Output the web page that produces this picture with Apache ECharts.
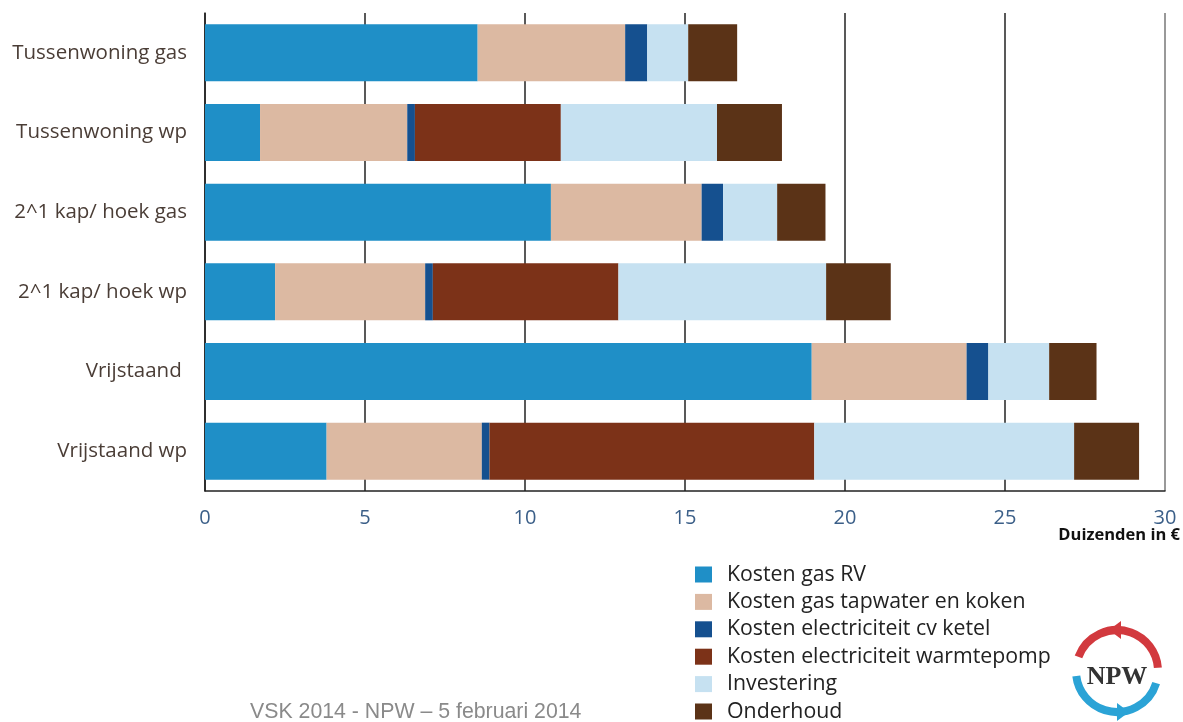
<!DOCTYPE html>
<html>
<head>
<meta charset="utf-8">
<script src="https://cdn.jsdelivr.net/npm/echarts@6/dist/echarts.min.js"></script>
<style>
html,body{margin:0;padding:0;background:#fff;}
#chart{width:1183px;height:722px;}
</style>
</head>
<body>
<div id="chart"></div>
<script>
const categories = ['Tussenwoning gas', 'Tussenwoning wp', '2^1 kap/ hoek gas', '2^1 kap/ hoek wp', 'Vrijstaand ', 'Vrijstaand wp'];
const seriesNames = ['Kosten gas RV', 'Kosten gas tapwater en koken', 'Kosten electriciteit cv ketel', 'Kosten electriciteit warmtepomp', 'Investering', 'Onderhoud'];
const gasRV        = [8.52, 1.72, 10.81, 2.19, 18.96, 3.80];
const gasTapwater  = [4.61, 4.60, 4.71, 4.69, 4.84, 4.85];
const elecCvKetel  = [0.69, 0.24, 0.67, 0.24, 0.68, 0.24];
const elecWarmtepomp = [0, 4.56, 0, 5.80, 0, 10.15];
const investering  = [1.28, 4.88, 1.69, 6.49, 1.90, 8.12];
const onderhoud    = [1.53, 2.03, 1.51, 2.02, 1.48, 2.03];
const xTicks = [0, 5, 10, 15, 20, 25, 30];
const axisUnit = 'Duizenden in €';
const footer = 'VSK 2014 - NPW – 5 februari 2014';

const colors = ['#1f8fc7', '#dcb9a2', '#15508f', '#7c3218', '#c6e1f1', '#5b3317'];
const values = [gasRV, gasTapwater, elecCvKetel, elecWarmtepomp, investering, onderhoud];

const chart = echarts.init(document.getElementById('chart'), null, {renderer: 'canvas'});
const cx = 1117, cy = 671, R = 41;
const option = {
  animation: false,
  backgroundColor: '#ffffff',
  color: colors,
  grid: {left: 205, top: 13, right: 18, bottom: 231, containLabel: false},
  xAxis: {
    type: 'value', min: xTicks[0], max: xTicks[xTicks.length - 1], interval: 5,
    axisLine: {show: true, lineStyle: {color: '#222', width: 1.5}},
    axisTick: {show: false},
    axisLabel: {color: '#3b5f88', fontSize: 20, fontFamily: 'Open Sans', margin: 17},
    splitLine: {show: true, showMinLine: true, showMaxLine: true,
      lineStyle: {color: ['#222', '#222', '#222', '#222', '#222', '#222', '#777'], width: 1.5}}
  },
  yAxis: {
    type: 'category', inverse: true, data: categories,
    axisLine: {show: true, lineStyle: {color: '#222', width: 1.5}},
    axisTick: {show: false},
    axisLabel: {color: '#4a3d36', fontSize: 20.5, fontFamily: 'Open Sans', margin: 18}
  },
  legend: {
    orient: 'vertical', left: 695, top: 564, height: 200, padding: 0,
    itemWidth: 17, itemHeight: 16, itemGap: 6.4, icon: 'rect',
    textStyle: {fontSize: 21.3, lineHeight: 19, color: '#222', fontFamily: 'Open Sans', padding: [0, 0, 0, 10]},
    data: seriesNames
  },
  series: seriesNames.map((n, i) => ({
    name: n, type: 'bar', stack: 'total', data: values[i],
    barWidth: 57, itemStyle: {color: colors[i]}
  })),
  graphic: [
    {type: 'text', right: 3, top: 527, style: {text: axisUnit, font: 'bold 16.5px "Open Sans"', fill: '#111'}},
    {type: 'text', left: 250, top: 702, style: {text: footer, font: '21.3px "Liberation Sans"', fill: '#8a8a8a'}},
    {type: 'arc', shape: {cx: cx, cy: cy, r: R, startAngle: Math.PI + 0.35, endAngle: 2 * Math.PI - 0.08, clockwise: true},
      style: {stroke: '#d2393e', lineWidth: 8, fill: null}},
    {type: 'arc', shape: {cx: cx, cy: cy, r: R, startAngle: 0.3, endAngle: Math.PI - 0.12, clockwise: true},
      style: {stroke: '#2ba3d6', lineWidth: 8, fill: null}},
    {type: 'polygon', shape: {points: [[cx - 8, cy - R], [cx + 4, cy - R - 9], [cx + 4, cy - R + 9]]}, style: {fill: '#d2393e'}},
    {type: 'polygon', shape: {points: [[cx + 12, cy + R], [cx, cy + R - 9], [cx, cy + R + 9]]}, style: {fill: '#2ba3d6'}},
    {type: 'text', x: cx, y: cy + 6, style: {text: 'NPW', font: 'bold 26px "Liberation Serif"', fill: '#333', align: 'center', verticalAlign: 'middle'}}
  ]
};
chart.setOption(option);
</script>
</body>
</html>
